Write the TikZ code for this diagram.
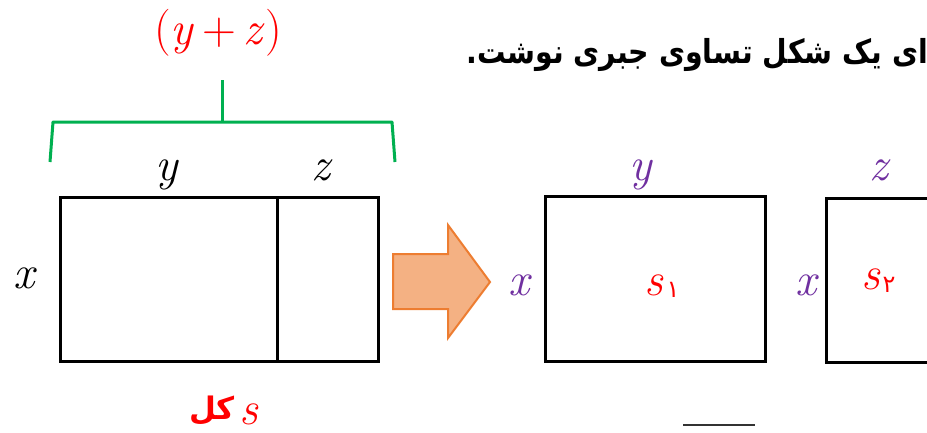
\documentclass[tikz,border=0pt]{standalone}
\usepackage{fontspec}
\TeXXeTstate=1
\newfontfamily\arabicfont[Script=Arabic]{DejaVu Sans}
\definecolor{myred}{RGB}{255,0,0}
\definecolor{mypurple}{RGB}{112,48,160}
\definecolor{mygreen}{RGB}{0,176,80}
\definecolor{arrowfill}{RGB}{244,177,131}
\definecolor{arrowdraw}{RGB}{237,125,49}
\newcommand{\vv}[1]{\textit{#1}}
\begin{document}
\begin{tikzpicture}[x=1pt,y=-1pt,
  box/.style={draw=black, line width=3pt},
  lbl/.style={inner sep=0pt, anchor=base, font=\fontsize{47}{47}\selectfont},
  dig/.style={inner sep=0pt, anchor=base, text=myred, font=\arabicfont\fontsize{24}{24}\selectfont},
  brace/.style={draw=mygreen, line width=3pt, line join=round}]
\useasboundingbox (0,0) rectangle (927,432);
\clip (0,0) rectangle (927,432);

% title
\node[inner sep=0pt, anchor=base east, font=\arabicfont\bfseries\fontsize{33}{33}\selectfont] (title) at (928,63)
  {\scalebox{0.86}[1]{\beginR ای یک شکل تساوی جبری نوشت.\endR}};

% brace and sum label
\node[lbl, text=myred] (ypz) at (218,44) {(\vv{y}\,+\,\vv{z})};
\draw[brace] (50,162) -- (53,122) -- (392,122) -- (395,162);
\draw[brace] (222,122) -- (222,80);

% big rectangle
\draw[box] (60,197) rectangle (378,361);
\draw[box] (277,197) -- (277,361);
\node[lbl] (ly) at (167,180) {\vv{y}};
\node[lbl] (lz) at (322,180) {\vv{z}};
\node[lbl] (lx) at (25,288) {\vv{x}};
\node[lbl, text=myred] (ls) at (249,424) {\vv{s}};
\node[inner sep=0pt, anchor=base, text=myred, font=\arabicfont\bfseries\fontsize{31}{31}\selectfont] (kol) at (212,419) {\beginR کل\endR};

% arrow
\filldraw[fill=arrowfill, draw=arrowdraw, line width=2pt, line join=miter]
  (393,254) -- (448,254) -- (448,225) -- (490,282) -- (448,338) -- (448,309) -- (393,309) -- cycle;

% second rectangle
\draw[box] (545,196) rectangle (765,361);
\node[lbl, text=mypurple] (y2) at (641,180) {\vv{y}};
\node[lbl, text=mypurple] (x2) at (520,295) {\vv{x}};
\node[lbl, text=myred] (s1) at (654,295) {\vv{s}};
\node[dig] (d1) at (673,297) {۱};

% third rectangle
\draw[box] (826,198) rectangle (945,362);
\node[lbl, text=mypurple] (z3) at (880,180) {\vv{z}};
\node[lbl, text=mypurple] (x3) at (807,295) {\vv{x}};
\node[lbl, text=myred] (s2) at (871,289) {\vv{s}};
\node[dig] (d2) at (889,292) {۲};

% bottom stroke
\draw[line width=2pt, black!80] (683,425) -- (755,425);
\end{tikzpicture}
\end{document}
